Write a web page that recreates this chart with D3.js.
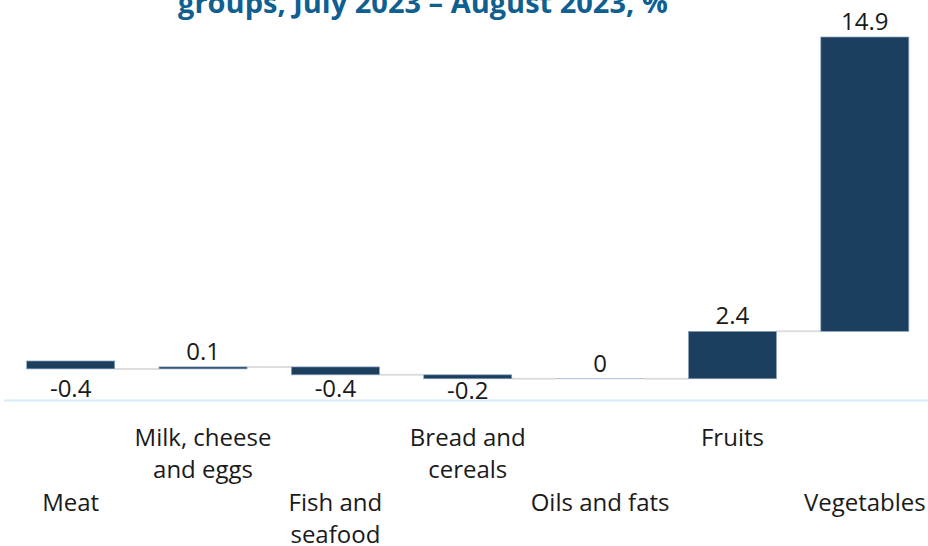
<!DOCTYPE html>
<html>
<head>
<meta charset="utf-8">
<script src="https://cdn.jsdelivr.net/npm/d3@7"></script>
<style>
  html, body { margin: 0; padding: 0; background: #fff; }
  svg { display: block; font-family: "Open Sans", sans-serif; }
</style>
</head>
<body>
<svg id="chart" width="928" height="546"></svg>
<script>
const titleText = "groups, July 2023 – August 2023, %";
const categories = ["Meat", "Milk, cheese and eggs", "Fish and seafood", "Bread and cereals", "Oils and fats", "Fruits", "Vegetables"];
const changes = [-0.4, 0.1, -0.4, -0.2, 0, 2.4, 14.9];
const valueLabels = ["-0.4", "0.1", "-0.4", "-0.2", "0", "2.4", "14.9"];

const W = 928, H = 546;
const svg = d3.select("#chart");

// waterfall accumulation
let cum = 0;
const steps = changes.map((v, i) => {
  const start = cum; cum += v;
  return { cat: categories[i], v, start, end: cum, label: valueLabels[i], i };
});

const x = d3.scaleBand().domain(categories).range([4.5, 931]).paddingInner(0.335).paddingOuter(0.1675);
const y = d3.scaleLinear().domain([-2, d3.max(steps, d => Math.max(d.start, d.end))]).range([400.5, 37]);

// title (visible part)
svg.append("text").attr("x", 423).attr("y", 13).attr("text-anchor", "middle")
  .attr("font-weight", 700).attr("font-size", 29).attr("fill", "#0f5f91").text(titleText);

// axis baseline
svg.append("line").attr("x1", 4).attr("x2", W).attr("y1", y(-2)).attr("y2", y(-2))
  .attr("stroke", "#d5ecf8").attr("stroke-width", 2);

// connectors
svg.append("g").selectAll("line").data(steps.slice(0, -1)).join("line")
  .attr("x1", d => x(d.cat) + x.bandwidth())
  .attr("x2", d => x(categories[d.i + 1]))
  .attr("y1", d => y(d.end)).attr("y2", d => y(d.end))
  .attr("stroke", "#dddddd").attr("stroke-width", 2);

// bars
svg.append("g").selectAll("rect").data(steps).join("rect")
  .attr("x", d => x(d.cat))
  .attr("width", x.bandwidth())
  .attr("y", d => y(Math.max(d.start, d.end)))
  .attr("height", d => Math.max(0.01, Math.abs(y(d.start) - y(d.end))))
  .attr("fill", "#1d3f5f")
  .attr("stroke", "#8aa3bb").attr("stroke-width", 0.7);

// value labels
svg.append("g").selectAll("text").data(steps).join("text")
  .attr("x", d => x(d.cat) + x.bandwidth() / 2)
  .attr("y", d => d.v >= 0 ? y(Math.max(d.start, d.end)) - 7
                           : Math.max(y(Math.min(d.start, d.end)) + 20, y(-2) - 4))
  .attr("text-anchor", "middle").attr("font-size", 24).attr("fill", "#1a1a1a")
  .text(d => d.label);

// category labels, staggered and wrapped
const catG = svg.append("g");
categories.forEach((c, i) => {
  const cx = x(c) + x.bandwidth() / 2;
  const t = catG.append("text")
    .attr("x", cx)
    .attr("y", i % 2 === 0 ? 510.5 : 445.5)
    .attr("text-anchor", "middle").attr("font-size", 24).attr("fill", "#1a1a1a");
  const words = c.split(" ");
  let line = [];
  let ts = t.append("tspan").attr("x", cx).attr("dy", 0);
  words.forEach(w => {
    line.push(w);
    ts.text(line.join(" "));
    if (ts.node().getComputedTextLength() > 150 && line.length > 1) {
      line.pop(); ts.text(line.join(" "));
      line = [w];
      ts = t.append("tspan").attr("x", cx).attr("dy", 32).text(w);
    }
  });
});
</script>
</body>
</html>
